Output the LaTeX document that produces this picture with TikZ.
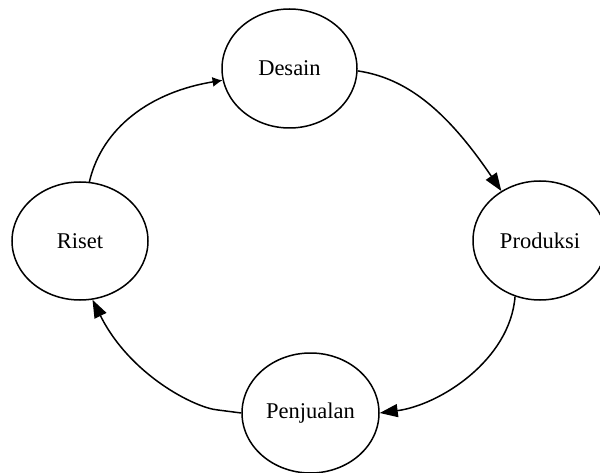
\documentclass[tikz,border=0pt]{standalone}
\usepackage{fontspec}
\setmainfont{Liberation Serif}
\usetikzlibrary{shapes.geometric,arrows.meta}
\begin{document}
\begin{tikzpicture}[x=1pt,y=-1pt,
  stage/.style={ellipse,draw,line width=1.5pt,inner sep=0pt,font=\fontsize{22.5}{26}\selectfont},
  flow/.style={line width=1.5pt,-{Triangle[length=18pt,width=13pt]}},
  blob/.style={line width=1.5pt,-{Latex[length=10pt,width=10pt]}}]
\useasboundingbox (0,0) rectangle (600,473);
\clip (0,0) rectangle (600,473);
\fill[white] (0,0) rectangle (600,473);
\node[stage,minimum width=135pt,minimum height=119pt] (desain) at (289.5,68.5) {Desain};
\node[stage,minimum width=136pt,minimum height=118pt] (riset) at (80,241) {Riset};
\node[stage,minimum width=134pt,minimum height=119pt] (produksi) at (540,240.5) {Produksi};
\node[stage,minimum width=137pt,minimum height=120pt] (penjualan) at (310.5,413) {Penjualan};
\coordinate (bend) at (218,410);
\draw[blob] (riset.81) .. controls (102,128) and (150,92) .. (desain.190);
\draw[flow] (desain.-2) .. controls (405,78) and (445,108) .. (produksi.128);
\draw[flow] (produksi.246) .. controls (510,360) and (440,405) .. (penjualan.east);
\draw[flow] (penjualan.180) -- (bend) .. controls (195,408) and (130,375) .. (riset.282);
\end{tikzpicture}
\end{document}
